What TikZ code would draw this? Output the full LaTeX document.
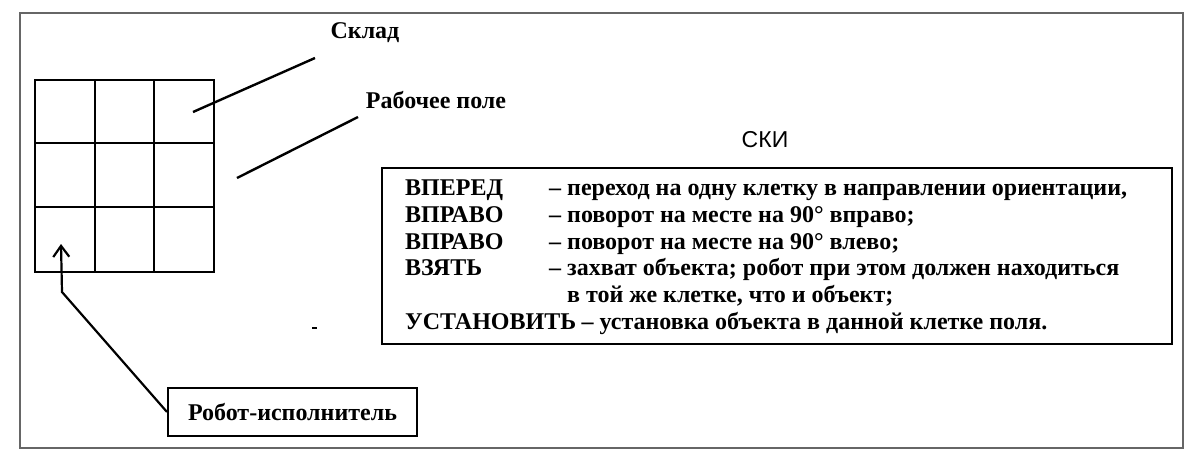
\documentclass[tikz,border=0pt]{standalone}
\usepackage{fontspec}
\setmainfont{Liberation Serif}
\newfontfamily\skisans{Liberation Sans}
\usetikzlibrary{arrows.meta}
\tikzset{
  lbl/.style={font=\bfseries\fontsize{24}{28}\selectfont, inner sep=0pt},
  cmd/.style={font=\bfseries\fontsize{24}{28}\selectfont, anchor=base west, inner sep=0pt},
  desc/.style={font=\bfseries\fontsize{24}{28}\selectfont, anchor=base west, inner sep=0pt},
  leader/.style={line width=2.4pt},
  gridline/.style={line width=2.6pt},
  boxline/.style={draw, line width=2pt}
}
\begin{document}
\begin{tikzpicture}[x=1pt,y=-1pt]
\useasboundingbox (0,0) rectangle (1200,456);
% outer frame
\draw[line width=1.5pt, gray!80!black] (20,13) rectangle (1183,448);
% grid
\draw[gridline] (35,80) rectangle (214,272);
\draw[gridline] (95,80) -- (95,272) (154,80) -- (154,272);
\draw[gridline] (35,143) -- (214,143) (35,207) -- (214,207);
% labels
\node[lbl] (sklad) at (365,33) {Склад};
\node[lbl] (pole) at (436,100) {Рабочее поле};
\coordinate (skladend) at (315,58);
\coordinate (skladcell) at (193,112);
\coordinate (poleend) at (358,117);
\coordinate (polestart) at (237,178);
\draw[leader] (skladcell) -- (skladend);
\draw[leader] (polestart) -- (poleend);
% robot box
\node[boxline, minimum width=249pt, minimum height=48pt, inner sep=0pt] (robot) at (292.5,412) {\bfseries\fontsize{24}{28}\selectfont Робот-исполнитель};
\coordinate (tip) at (61,244);
\coordinate (bend) at (62,292);
\draw[line width=2.2pt, -{Straight Barb[length=11pt,width=16pt,line width=2.2pt]}] (robot.west |- 0,412) -- (bend) -- (tip);
% speck
\draw[line width=2pt] (312,328) -- (317,328);
% SKI
\node[font=\skisans\fontsize{23}{26}\selectfont, inner sep=0pt] (ski) at (765,140) {СКИ};
\node[boxline, minimum width=790pt, minimum height=176pt, inner sep=0pt] (skibox) at (777,256) {};
\node[cmd] (c1) at (405,195) {ВПЕРЕД};
\node[cmd] (c2) at (405,222) {ВПРАВО};
\node[cmd] (c3) at (405,249) {ВПРАВО};
\node[cmd] (c4) at (405,275) {ВЗЯТЬ};
\node[cmd] (c5) at (405,329) {УСТАНОВИТЬ};
\node[desc] (d1) at (549,195) {– переход на одну клетку в направлении ориентации,};
\node[desc] (d2) at (549,222) {– поворот на месте на 90° вправо;};
\node[desc] (d3) at (549,249) {– поворот на месте на 90° влево;};
\node[desc] (d4) at (549,275) {– захват объекта; робот при этом должен находиться};
\node[desc] (d5) at (567,302) {в той же клетке, что и объект;};
\node[desc, xshift=5pt] (d6) at (c5.base east) {– установка объекта в данной клетке поля.};
\end{tikzpicture}
\end{document}
